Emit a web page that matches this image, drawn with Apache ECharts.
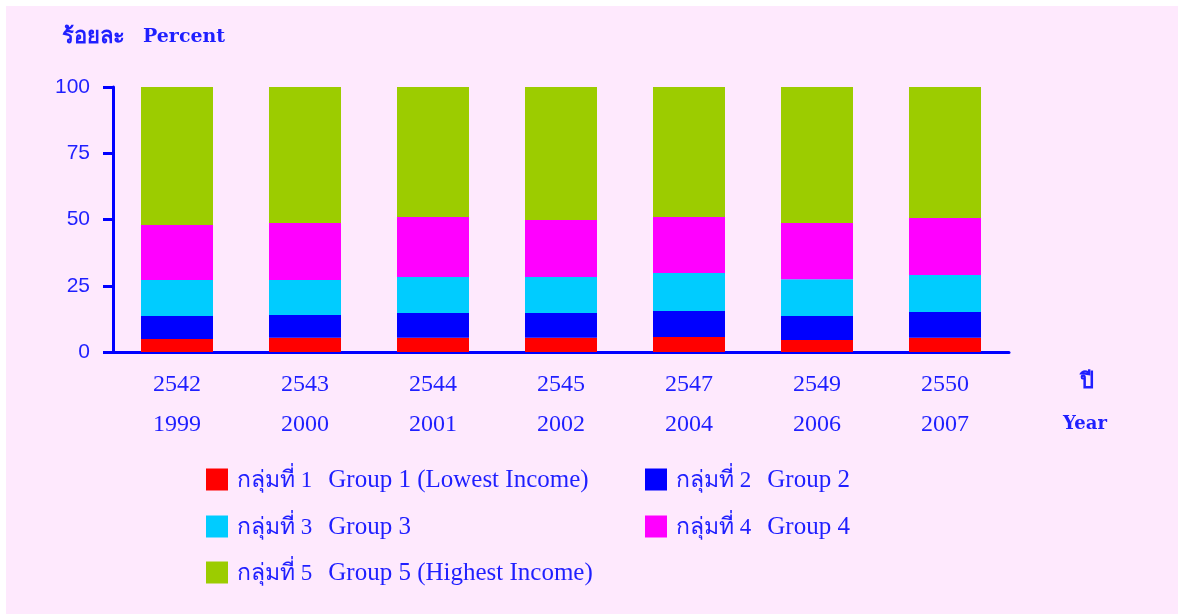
<!DOCTYPE html>
<html>
<head>
<meta charset="utf-8">
<script src="https://cdn.jsdelivr.net/npm/echarts@6/dist/echarts.min.js"></script>
<style>
  html, body { margin: 0; padding: 0; background: #ffffff; }
  #main { position: absolute; left: 6px; top: 6px; width: 1172px; height: 608px; background: #fee9fd; }
</style>
</head>
<body>
<div id="main"></div>
<script>
    // ปี พ.ศ. / ค.ศ.
    var thaiYears = ['2542', '2543', '2544', '2545', '2547', '2549', '2550'];
    var years = ['1999', '2000', '2001', '2002', '2004', '2006', '2007'];

    var groupThai = ['กลุ่มที่ 1', 'กลุ่มที่ 2', 'กลุ่มที่ 3', 'กลุ่มที่ 4', 'กลุ่มที่ 5'];
    var groupEng = ['Group 1 (Lowest Income)', 'Group 2', 'Group 3', 'Group 4', 'Group 5 (Highest Income)'];
    var group1 = [4.9, 5.4, 5.4, 5.4, 5.7, 4.5, 5.4];
    var group2 = [8.7, 8.6, 9.3, 9.3, 9.8, 9.1, 9.7];
    var group3 = [13.6, 13.2, 13.6, 13.6, 14.3, 13.9, 14.0];
    var group4 = [20.7, 21.5, 22.6, 21.5, 21.1, 21.2, 21.5];
    var group5 = [52.1, 51.3, 49.1, 50.2, 49.1, 51.3, 49.4];
    var yTicks = [0, 25, 50, 75, 100];

    var colors = ['#ff0000', '#0000ff', '#00ccff', '#ff00ff', '#9ccc00'];
    var values = [group1, group2, group3, group4, group5];
    var groupNames = groupThai.map(function (t, i) { return t + '  ' + groupEng[i]; });
    var txtColor = '#1f1fff';
    var serif = '"Liberation Serif", "DejaVu Serif", serif';
    var boldSerif = '"DejaVu Serif", serif';

    // ตำแหน่งคำอธิบายสัญลักษณ์
    var legendPos = [[200, 462], [639, 462], [200, 509], [639, 509], [200, 555]];

    var chart = echarts.init(document.getElementById('main'));
    var option = {
        animation: false,
        title: {
            text: '{th|ร้อยละ}{gap|}{en|Percent}',
            left: 56,
            top: 20,
            padding: 0,
            textStyle: {
                rich: {
                    th: { color: txtColor, fontSize: 22, fontWeight: 'bold', fontFamily: serif },
                    gap: { width: 18 },
                    en: { color: txtColor, fontSize: 19, fontWeight: 'bold', fontFamily: boldSerif }
                }
            }
        },
        grid: { left: 107, right: 169, top: 81, bottom: 262 },
        legend: groupNames.map(function (n, i) {
            return {
                data: [n],
                left: legendPos[i][0],
                top: legendPos[i][1],
                padding: 0,
                icon: 'rect',
                itemWidth: 22,
                itemHeight: 22,
                selectedMode: false,
                formatter: function () {
                    return '{th|' + groupThai[i] + '}{gap|}{en|' + groupEng[i] + '}';
                },
                textStyle: {
                    color: txtColor,
                    padding: [2, 0, 0, 4],
                    rich: {
                        th: { color: txtColor, fontSize: 23, fontFamily: serif },
                        gap: { width: 16 },
                        en: { color: txtColor, fontSize: 25, fontFamily: serif }
                    }
                }
            };
        }),
        xAxis: {
            type: 'category',
            data: thaiYears,
            axisLine: { lineStyle: { color: '#0000ff', width: 3 } },
            axisTick: { show: false },
            axisLabel: {
                margin: 13,
                color: txtColor,
                fontSize: 24,
                fontFamily: serif,
                lineHeight: 40,
                formatter: function (v, i) { return v + '\n' + years[i]; }
            }
        },
        yAxis: {
            type: 'value',
            min: 0,
            max: 100,
            interval: 25,
            splitLine: { show: false },
            axisLine: { show: true, lineStyle: { color: '#0000ff', width: 3 } },
            axisTick: { show: true, length: 10, lineStyle: { color: '#0000ff', width: 3 } },
            axisLabel: {
                margin: 23,
                color: txtColor,
                fontSize: 21,
                fontFamily: '"Liberation Sans", Arial, sans-serif',
                formatter: function (v) { return yTicks.indexOf(v) >= 0 ? v : ''; }
            }
        },
        graphic: [
            {
                type: 'text', left: 1074, top: 365,
                style: { text: 'ปี', fill: txtColor, fontSize: 22, fontWeight: 'bold', fontFamily: serif }
            },
            {
                type: 'text', left: 1057, top: 409,
                style: { text: 'Year', fill: txtColor, fontSize: 18, fontWeight: 'bold', fontFamily: boldSerif }
            }
        ],
        series: values.map(function (d, i) {
            return {
                name: groupNames[i],
                type: 'bar',
                stack: 'total',
                barWidth: 72,
                itemStyle: { color: colors[i] },
                data: d
            };
        })
    };
    chart.setOption(option);
</script>
</body>
</html>
